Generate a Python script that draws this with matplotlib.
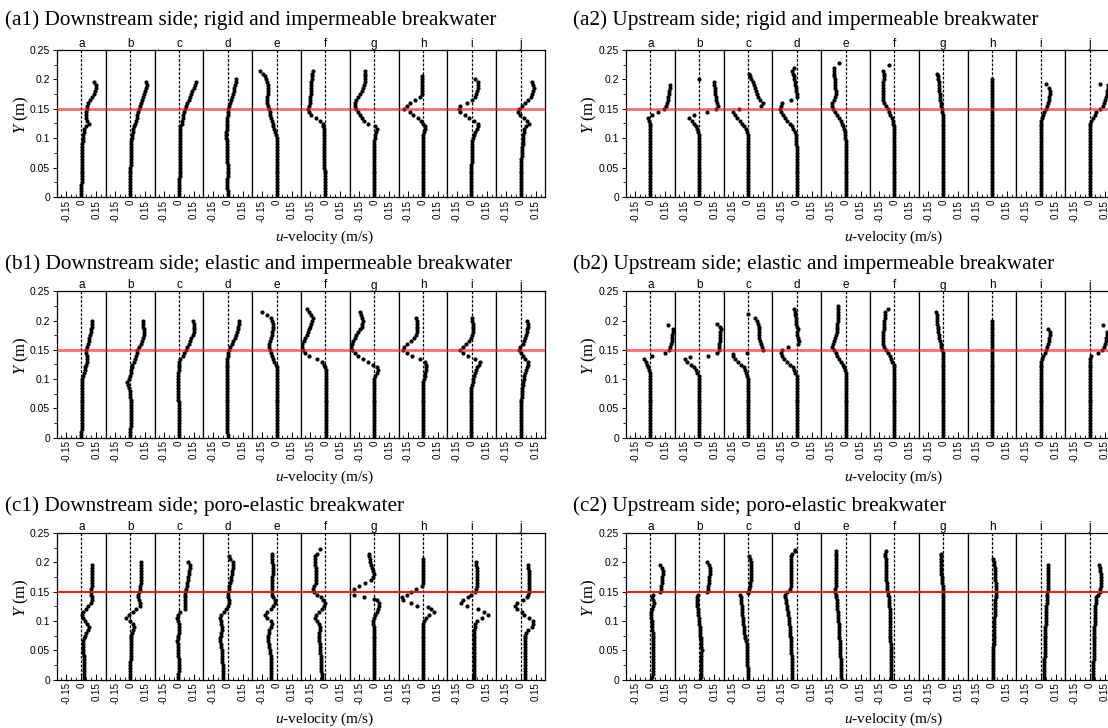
import numpy as np
import matplotlib.pyplot as plt
from matplotlib.ticker import FixedLocator, MultipleLocator

plt.rcParams['font.family'] = 'Liberation Sans'
plt.rcParams['mathtext.fontset'] = 'custom'
plt.rcParams['mathtext.rm'] = 'Liberation Serif'
plt.rcParams['mathtext.it'] = 'Liberation Serif:italic'

STATIONS = list('abcdefghij')
DY = 0.005  # vertical spacing of the measured points (m)

# u-velocity profiles in cm/s, listed from y = 0 upward in steps of DY
a1_u = {
    'a': [0, 0, 0, 0, 0, 0.5, 0.5, 0.5, 0.5, 0.5, 0.5, 0.5, 0.5, 0.5, 0.5, 1, 1, 1, 1, 1.5,
          1.5, 2, 2.5, 3, 5, 8, 6, 5, 4.5, 5, 6, 5.5, 7, 9, 11, 13, 14, 15, 15, 13],
    'b': [0, 0, 0, 0, 0, 0, 0, 0, 0, 0, 0, 0.5, 0.5, 0.5, 0.5, 0.5, 0.5, 0.5, 1, 1,
          1.5, 2, 2.5, 3, 4, 5, 6, 6.5, 7, 8, 9, 10, 11, 12, 13, 14, 15, 16, 17, 16],
    'c': [0, 0, 0.5, 0.5, 0.5, 0.5, 0.5, 1, 1, 1, 1, 1, 1, 1, 1, 1, 1, 1, 1, 1,
          1, 1, 1, 1.5, 1.5, 3, 3.5, 4, 4.5, 5, 6, 7, 8.5, 10, 11, 12, 13.5, 15, 16, 17],
    'd': [0, 0, 0, -0.5, -0.5, -0.5, -0.5, 0, 0, 0, 0, 0, -0.5, -0.5, -0.5, -0.5, -0.5, -1, -1, -1,
          -1.5, -1.5, -1.5, -1, -1, -0.5, -0.5, -0.5, 0, 0, 0.5, 1.5, 2.5, 3, 4, 5, 6, 6.5, 7, 8, 8.5],
    'e': [0.5, 0.5, 0.5, 0.5, 0.5, 0.5, 0.5, 0.5, 0.5, 0.5, 0, 0, 0, 0, 0, 0, 0, 0, 0, 0,
          0, -0.5, -1.5, -2.5, -3.5, -4, -4.5, -5.5, -6.5, -7, -8, -8.5, -10, -10, -9.5, -9, -8.5, -8.5, -9, -9.5,
          -10.5, -12, -14, -17],
    'f': [0, 0, 0, 0, -0.5, -0.5, -0.5, -0.5, -0.5, -0.5, -1, -1, -1, -1, -1, -1, -1, -1, -1, -1,
          -1, -1, -1, -1, -2, -2, -5, -9, -14, -16.5, -17, -16, -15.5, -15, -15, -14.5, -14.5, -14, -14, -14,
          -13.5, -13.5, -13, -12],
    'g': [0, 0, 0, 0, 0, 0, 0, 0, 0, 0, -0.5, -0.5, -0.5, -0.5, -0.5, -0.5, -0.5, -0.5, 0, 0,
          0.5, 1, 1.5, 2.5, 1, -6, -10, -12.5, -14.5, -16.5, -18, -19, -19, -18, -16.5, -14, -12.5, -11, -10, -9.5,
          -9, -9, -9, -9.5],
    'h': [-0.5, -0.5, -0.5, -0.5, -0.5, -0.5, -0.5, -0.5, -0.5, -0.5, -0.5, -0.5, -0.5, -0.5, -0.5, -0.5, -0.5, -0.5, -0.5, -0.5,
          -0.5, 0, 1, 2.5, 2, 0, -2, -5, -10, -13, -19, -16, -13, -8, -3, -1.5, -1.5, -1.5, -1.5, -1.5,
          -1.5, -1],
    'i': [-0.5, -0.5, -0.5, -0.5, -0.5, -0.5, -0.5, -0.5, -0.5, -0.5, -0.5, -0.5, 0, 0, 0, 0, 0, 0, 0.5, 0.5,
          1.5, 2.5, 3.5, 5, 6.5, 6, 2, -3, -7, -12, -13, -12, -5, 0, 3, 4.5, 5.5, 6, 6.5, 6, 3.5],
    'j': [0, 0, 0, 0, 0.5, 0.5, 0.5, 0.5, 0.5, 0.5, 0.5, 0.5, 0.5, 0.5, 1, 1, 1, 1.5, 2, 2,
          2, 2.5, 3, 3.5, 5, 8, 6.5, 3, -1, -3, -2, 1, 4.5, 7.5, 10, 11.5, 12.5, 13, 12.5, 11],
}
a1_extra = {}

a2_u = {
    'a': [0, 0, 0, 0, 0, 0, 0, 0, 0, 0, 0, 0, 0, 0, 0, 0, 0, 0, 0, 0,
          0, 0, 0, 0, 0, 0, -1, -2.5, 2, 8, 14, 16, 17, 17.5, 18, 19, 19, 19.5, 19.5],
    'b': [0, 0, 0, 0, 0, 0, 0, 0, 0, 0, 0, 0, 0, 0, 0, 0, 0, 0, -0.5, -0.5,
          -0.5, -0.5, -1.5, -2.5, -3.5, -5, -7, -10, -5, 8, 17, 19, 18, 17, 16.5, 16, 16, 15.5, 15, 15],
    'c': [0, 0, 0, 0, 0, 0, 0, 0, 0, 0, 0, 0, 0, 0, 0, 0, 0, 0, -0.5, -0.5,
          -0.5, -0.5, -1.5, -2.5, -4, -6, -8.5, -11, -13.5, -15.5, -9, 13.5, 15, 12, 10.5, 9.5, 8.5, 7.5, 6.5, 5,
          3.5, 2.5, 1.5],
    'd': [0, 0, 0, 0, 0, 0, 0, 0, 0, 0, 0, 0, 0, 0, 0, 0, 0, 0, -0.5, -0.5,
          -0.5, -0.5, -2, -3.5, -5, -7, -9.5, -12, -14, -15.5, -16.5, -16, -14.5, -6, 0, 0, -0.5, -1, -1.5, -2,
          -2.5, -3, -3.5, -4.5, -2.5],
    'e': [0, 0, 0, 0, 0, 0, 0, 0, 0, 0, 0, 0, 0, 0, 0, 0, 0, 0, 0, 0,
          -0.5, -0.5, -0.5, -1.5, -2.5, -4, -5, -6.5, -8.5, -10.5, -12.5, -14, -13.5, -12, -10.5, -10, -10, -10.5, -11, -11,
          -11, -11.5, -11.5, -11.5, -11.5],
    'f': [0, 0, 0, 0, 0, 0, 0, 0, 0, 0, 0, 0, 0, 0, 0, 0, 0, 0, 0, 0,
          0, 0, 0, 0, -0.5, -1, -1.5, -2.5, -4, -5, -6.5, -8.5, -10, -11, -11, -11.5, -11.5, -11, -11, -11,
          -10.5, -10.5, -10.5, -11],
    'g': [0, 0, 0, 0, 0, 0, 0, 0, 0, 0, 0, 0, 0, 0, 0, 0, 0, 0, 0, 0,
          0, 0, 0, 0, 0, 0, 0, 0, -0.5, -1, -1.5, -2, -2.5, -3, -3.5, -3.5, -4, -4, -4.5, -4.5,
          -5, -5.5, -6.5],
    'h': [0, 0, 0, 0, 0, 0, 0, 0, 0, 0, 0, 0, 0, 0, 0, 0, 0, 0, 0, 0,
          0, 0, 0, 0, 0, 0.5, 0.5, 0.5, 0.5, 0.5, 0.5, 0.5, 0.5, 0.5, 0.5, 0.5, 0.5, 0.5, 0.5, 0.5, 0.5],
    'i': [0, 0, 0, 0, 0, 0, 0, 0, 0, 0, 0, 0, 0, 0, 0, 0, 0, 0, 0, 0,
          0, 0, 0, 0, 0, 0, 0.5, 1, 2, 3.5, 5.5, 6.5, 7.5, 8, 8.5, 9, 9, 8.5],
    'j': [0, 0, 0, 0, 0, 0, 0, 0, 0, 0, 0, 0, 0, 0, 0, 0, 0, 0, 0, 0,
          0, 0, 0, 0, 0, 0.5, 1.5, 3, 5, 6.5, 10, 13, 14.5, 15.5, 16.5, 17, 17.5, 18, 18],
}
# isolated points (y in m, u in cm/s)
a2_extra = {'b': [(0.2, 0)], 'e': [(0.228, -6.5)], 'f': [(0.224, -5.5)],
            'i': [(0.193, 5.5)], 'j': [(0.193, 10)]}

b1_u = {
    'a': [0, 0, 0, 0.5, 0.5, 0.5, 0.5, 0.5, 0.5, 0.5, 0.5, 0.5, 0.5, 0.5, 0.5, 0.5, 0.5, 0.5, 0.5, 0.5,
          1, 2, 3, 3.5, 4, 5, 6, 6, 5.5, 5, 5, 5.5, 6.5, 7.5, 8, 8.5, 9.5, 10, 10.5, 10.5, 11],
    'b': [0, 0, 0, 0, 0.5, 0.5, 0.5, 0.5, 0.5, 0.5, 0.5, 0.5, 0.5, 0.5, 0, 0, -0.5, -1, -2, -3,
          -1.5, -0.5, 0.5, 1, 1.5, 2, 3.5, 4.5, 6, 6.5, 7, 9, 10.5, 12, 13, 13.5, 14, 13.5, 13, 12.5, 12.5],
    'c': [0, 0, 0, 0, 0, -0.5, -0.5, -0.5, -0.5, -0.5, -0.5, -0.5, -0.5, -1, -1, -1, -1, -1, -1.5, -1.5,
          -1.5, -1, -1, -0.5, -0.5, 0, 0.5, 1.5, 4, 5.5, 7, 8.5, 10, 11.5, 12.5, 14, 15, 15.5, 15.5, 15, 14.5],
    'd': [0, 0, -0.5, -0.5, -0.5, -0.5, -0.5, -0.5, -0.5, -0.5, -0.5, -0.5, -1, -1, -1, -1, -1, -1, -1, -1,
          -1, -1, -1, -1, -1, -0.5, -0.5, -0.5, 0, 0.5, 1.5, 2.5, 4, 5.5, 7, 8, 9, 10, 10.5, 11, 11.5],
    'e': [0.5, 0.5, 0.5, 0.5, 0.5, 0.5, 0.5, 0.5, 0.5, 0.5, 0.5, 0.5, 0.5, 0.5, 0.5, 0.5, 0.5, 0.5, 0.5, 0.5,
          0.5, 0.5, 0.5, 0.5, 0, -1, -3, -4, -5, -6, -7, -8, -8, -7, -6, -5, -4.5, -4, -4, -4,
          -4.5, -6, -10, -15],
    'f': [0.5, 0.5, 0.5, 0.5, 0.5, 0.5, 0.5, 0.5, 0.5, 0.5, 0.5, 0.5, 0.5, 0.5, 0.5, 0.5, 0.5, 0.5, 0.5, 0.5,
          0.5, 0.5, 0.5, 0.5, 0, -1, -3, -8, -16, -20, -22, -23.5, -23, -21.5, -20, -18.5, -17, -16, -15, -14,
          -13, -12, -14, -16, -18.5],
    'g': [0, 0, 0, 0, 0, 0, 0, 0, 0, 0, 0, 0, 0, 0, 0, 0, 0, 0, 0, 0,
          0, 1, 2.5, 4, 2.5, -1, -6, -11, -16, -19.5, -22, -23, -22.5, -21, -19.5, -18, -16, -14, -12.5, -12,
          -11.5, -12, -13, -14.5],
    'h': [0, 0, 0, 0, 0, 0, 0, 0, 0, 0, 0, 0, 0, 0, 0, 0, 0, 0, 0, 0,
          1, 2, 2.5, 3, 3.5, 3, 2, -3, -11, -16, -20, -19.5, -16, -12, -9, -7.5, -6.5, -6, -6, -6,
          -6.5, -7.5],
    'i': [-0.5, -0.5, -0.5, -0.5, -0.5, -0.5, -0.5, -0.5, -0.5, -0.5, -0.5, -0.5, -0.5, -0.5, -0.5, -0.5, -0.5, -0.5, 0.5, 1,
          1.5, 2.5, 3.5, 4, 5, 7, 8, 3, -4, -9, -11.5, -9, -6, -3, -1, 0, 1, 1, 1.5, 1,
          0.5, 0],
    'j': [0, 0, 0, 0, 0, 0, 0.5, 0.5, 0.5, 0.5, 0.5, 0.5, 0.5, 0.5, 1, 1, 1.5, 1.5, 2, 2.5,
          3, 3.5, 4.5, 5, 6, 7.5, 7, 4.5, 2, 0.5, -2, -0.5, 2, 3.5, 4.5, 5.5, 6, 6.5, 7, 7, 6],
}
b1_extra = {}

b2_u = {
    'a': [0, 0, 0, 0, 0, 0, 0, 0, 0, 0, 0, 0, 0, 0, 0, 0, 0, 0, 0, 0,
          0, 0, -0.5, -1.5, -2.5, -3, -4, -6, 1.5, 15, 18.5, 20, 21, 21.5, 22, 22, 22.5, 23],
    'b': [0, 0, 0, 0, 0, 0, 0, 0, 0, 0, 0, 0, 0, 0, 0, 0, 0, 0, -0.5, -0.5,
          -0.5, -0.5, -2, -3.5, -5, -8, -12, -14, 9, 18, 19.5, 20, 20, 20.5, 20.5, 21, 21, 21.5, 21, 17.5],
    'c': [0, 0, 0, 0, 0, 0, 0, 0, 0, 0, 0, 0, 0, 0, 0, 0, 0, 0, 0, 0,
          0, -1, -2, -3, -4.5, -7, -10.5, -13.5, -15.5, -1.5, 15, 14.5, 13, 12, 11.5, 11, 11, 11, 11, 10,
          9, 7],
    'd': [0, 0, 0, 0, 0, 0, 0, 0, 0, 0, 0, 0, 0, 0, 0, 0, 0, 0, 0, 0,
          0, 0, -1.5, -2.5, -4, -6.5, -10, -13, -15, -15.5, -15, -9, 1.5, 2, 1, 0, 0.5, 1, 0, -0.5,
          -1, -1, -1.5, -2, -2.5],
    'e': [0, 0, 0, 0, 0, 0, 0, 0, 0, 0, 0, 0, 0, 0, 0, 0, 0, 0, 0, 0,
          0, 0, 0, -0.5, -1.5, -3, -5, -7, -8.5, -9.5, -12, -14, -13, -11.5, -10.5, -9.5, -9, -8.5, -8.5, -8.5,
          -8, -8, -8, -8, -8, -8],
    'f': [0, 0, 0, 0, 0, 0, 0, 0, 0, 0, 0, 0, 0, 0, 0, 0, 0, 0, 0, 0,
          0, 0, 0, 0, 0, -0.5, -2, -3, -4.5, -6, -8.5, -10, -11.5, -11.5, -11.5, -11, -11, -10.5, -10.5, -10,
          -10, -9.5, -9.5, -9, -6.5],
    'g': [0, 0, 0, 0, 0, 0, 0, 0, 0, 0, 0, 0, 0, 0, 0, 0, 0, 0, 0, 0,
          0, 0, 0, 0, 0, 0, 0, 0, -0.5, -0.5, -1, -2, -2.5, -3.5, -4, -4.5, -5, -5.5, -5.5, -6,
          -6, -6.5, -6.5, -7.5],
    'h': [0, 0, 0, 0, 0, 0, 0, 0, 0, 0, 0, 0, 0, 0, 0, 0, 0, 0, 0, 0,
          0, 0, 0, 0, 0, 0, 0.5, 0.5, 0.5, 0.5, 0.5, 0.5, 0.5, 0.5, 0.5, 0.5, 0.5, 0.5, 0.5, 0.5, 0.5],
    'i': [0, 0, 0, 0, 0, 0, 0, 0, 0, 0, 0, 0, 0, 0, 0, 0, 0, 0, 0, 0,
          0, 0, 0, 0, 0, 0, 0, 1, 2.5, 4, 5.5, 6.5, 7.5, 8, 8.5, 9, 9, 7.5],
    'j': [0, 0, 0, 0, 0, 0, 0, 0, 0, 0, 0, 0, 0, 0, 0, 0, 0, 0, 0, 0,
          0, 0, 0, 0, 0, 0, 0, 0, 1.5, 8, 12.5, 14, 15, 16, 16.5, 17, 17.5],
}
b2_extra = {'a': [(0.193, 18)], 'b': [(0.138, -9)], 'c': [(0.211, 0), (0.143, -15)],
            'j': [(0.193, 13.5)]}

c1_u = {
    'a': [2.5, 2.5, 2.5, 2.5, 2.5, 2.5, 2.5, 2.5, 2.5, 2, 2, 2, 2, 2, 2.5, 3.5, 5, 7, 8, 6,
          3.5, 1.5, 0.5, 2, 4.5, 6.5, 10, 11, 10.5, 10, 10, 10, 10.5, 10.5, 10.5, 10.5, 10.5, 10.5, 10.5, 10.5],
    'b': [0, 0, 0, 0, 0, 0, 0, 0.5, 0.5, 0.5, 0.5, 0.5, 0.5, 0.5, 0.5, 1, 1.5, 2.5, 3.5, 2.5,
          0, -4, -1, 3, 5.5, 10, 9.5, 8.5, 8, 8, 9, 9.5, 10, 10.5, 10.5, 11, 11, 11, 11, 11, 10.5],
    'c': [-1, -1, -1, -0.5, -0.5, -0.5, -0.5, -0.5, -1, -1, -1, -1, -1.5, -2.5, -1.5, -1, -0.5, 0, 0.5, 0,
          -1.5, -2.5, -1, 1, 6, 6.5, 6.5, 6, 6, 6, 6.5, 7, 8, 8.5, 9, 9.5, 10, 10.5, 11, 11, 9],
    'd': [-5, -5, -5, -5, -5, -5, -5.5, -5.5, -5.5, -6, -6, -6.5, -7, -7.5, -7.5, -7, -6.5, -6, -6, -6.5,
          -7, -7.5, -7, -4, -2, 0, 1.5, 1, 0.5, 0.5, 0.5, 1, 1.5, 2.5, 3, 3.5, 4, 4.5, 5, 5.5,
          5.5, 2.5, 1],
    'e': [-5.5, -5.5, -5.5, -5.5, -5.5, -6, -6, -6, -6, -6.5, -7, -7.5, -8, -8.5, -8.5, -8.5, -8, -7.5, -6, -4.5,
          -6, -9.5, -12, -9.5, -6, -3.5, -1.5, -2, -3.5, -4.5, -5, -5, -5, -4.5, -4.5, -4.5, -4, -4, -4, -4,
          -4.5, -4.5, -4.5, -5],
    'f': [-3.5, -3.5, -3.5, -4, -4, -4, -4, -4.5, -4.5, -5, -5, -5.5, -5.5, -6, -6, -6, -6, -5.5, -5.5, -6,
          -8, -10, -9, -6, -3, -1, -0.5, -2, -4.5, -8, -11, -12, -11, -9.5, -9, -9, -9, -9, -9.5, -10,
          -10.5, -10.5, -10, -8.5],
    'g': [0, 0, 0, 0, 0, -0.5, -0.5, -0.5, -0.5, -0.5, -0.5, -0.5, -0.5, -0.5, -0.5, -0.5, -0.5, -0.5, -0.5, -1,
          -1, 0, 1, 3, 4, 5, 5, 2.5, -10, -20, -25, -20, -15, -9, -3, -1, -0.5, -1.5, -2.5, -3,
          -4, -4.5, -5, -5.5],
    'h': [0, 0, 0, 0, 0.5, 0.5, 0.5, 0.5, 0.5, 0.5, 0.5, 0.5, 0.5, 0.5, 0.5, 0.5, 0.5, 0.5, 0.5, 0.5,
          1, 3, 6, 11, 8, -6, -12, -20, -21, -16, -12, -7, -1.5, 0, 0.5, 0.5, 0.5, 0, 0, 0,
          -0.5, -0.5],
    'i': [2.5, 2.5, 2.5, 2.5, 2.5, 2.5, 2.5, 2.5, 2.5, 2.5, 2.5, 2.5, 2.5, 2.5, 2.5, 2.5, 2.5, 2.5, 3, 3.5,
          5, 10, 16, 12, 6.5, -5, -11, -9, -4, -0.5, 3, 4, 5, 5, 5, 5, 5, 5, 5, 4.5, 4.5],
    'j': [4, 4, 4, 4, 4, 4, 4, 4, 4, 4, 4, 4, 4, 4, 4, 4.5, 5, 7.5, 11, 12.5,
          12, 8.5, 3.5, 1, -4, -5.5, -4, 2.5, 6, 7.5, 8.5, 8.5, 8.5, 8.5, 8.5, 8.5, 8, 8, 7.5, 7],
}
c1_extra = {'f': [(0.222, -5.5)], 'g': [(0.138, -0.5)], 'h': [(0.123, 5)]}

c2_u = {
    'a': [0.5, 2, 2.5, 3, 3, 3, 3, 3, 3, 3, 3, 3, 3, 2.5, 2.5, 2.5, 2.5, 2, 2, 1.5,
          1.5, 1, 1, 1, 1.5, 2.5, 3.5, 2.5, 1.5, 3, 10, 10.5, 11, 11.5, 12, 12, 12.5, 12.5, 11.5, 9.5],
    'b': [1, 1.5, 1.5, 1.5, 2, 2, 2, 2, 2, 2, 2.5, 2, 2, 1.5, 1.5, 1, 1, 0.5, 0.5, 0,
          0, -0.5, -1, -1, -1.5, -2, -2.5, -2.5, -2.5, -1.5, 8, 8.5, 9, 9.5, 10, 10, 10.5, 10.5, 10.5, 10, 8],
    'c': [-0.5, -0.5, -0.5, -0.5, -0.5, -1, -1, -1, -1, -1, -1, -1, -1.5, -2, -3, -3.5, -4, -4.5, -4.5, -5,
          -5.5, -5.5, -6, -6, -6.5, -6.5, -7, -7, -7.5, -8, 0, 1, 2, 2.5, 3, 3.5, 3.5, 3.5, 3.5, 3.5,
          3, 2, 1],
    'd': [-4.5, -4.5, -5, -5, -5, -5, -5, -5, -5, -5.5, -5.5, -5.5, -6, -6, -6, -6.5, -6.5, -7, -7, -7.5,
          -7.5, -8, -8.5, -9, -9.5, -10, -10.5, -11, -11.5, -11.5, -9.5, -7, -6, -6, -6, -6, -6, -6, -6, -6,
          -6, -6, -6, -4.5, -1.5],
    'e': [-4, -4.5, -4.5, -5, -5, -5, -5, -5, -5.5, -5.5, -5.5, -6, -6, -6, -6.5, -6.5, -6.5, -7, -7, -7,
          -7.5, -7.5, -8, -8, -8.5, -8.5, -9, -9, -9.5, -10, -10.5, -10.5, -10, -9.5, -9.5, -9.5, -9.5, -9.5, -10, -10,
          -10, -10, -10, -10, -9.5],
    'f': [-3, -3, -3, -3.5, -3.5, -3.5, -3.5, -3.5, -3.5, -3.5, -3.5, -3.5, -3.5, -4, -4, -4, -4, -4, -4, -4,
          -4, -4.5, -4.5, -4.5, -4.5, -5, -5, -5.5, -5.5, -6, -6.5, -7, -7.5, -7.5, -8, -8, -8, -8.5, -8.5, -8.5,
          -8.5, -8.5, -9, -9, -8.5],
    'g': [0, 0, 0, 0, 0, 0, 0, 0, 0, 0, 0, 0, 0, 0, 0, 0, 0, 0, 0, 0,
          0, 0, 0, 0, 0, 0, 0, 0, 0, 0, 0, -0.5, -0.5, -1, -1.5, -1.5, -2, -2, -2.5, -2.5,
          -2.5, -2.5, -2.5, -2],
    'h': [1, 1, 1, 1, 1, 1.5, 1.5, 1.5, 1.5, 1.5, 1.5, 1.5, 2, 2, 2, 2, 2, 2, 2.5, 2.5,
          2.5, 2.5, 3, 3, 3, 3.5, 3.5, 3.5, 4, 4, 4.5, 4.5, 4, 4, 3.5, 3.5, 3.5, 3, 3, 2.5,
          2.5, 1],
    'i': [3, 3, 3.5, 3.5, 3.5, 3.5, 3.5, 3.5, 4, 4, 4, 4, 4, 4, 4.5, 4.5, 4.5, 4.5, 4.5, 5,
          5, 5, 5, 5.5, 5.5, 5.5, 6, 6, 6, 6.5, 6.5, 7, 7, 7, 7.5, 7.5, 7.5, 7.5, 7.5, 7],
    'j': [3, 3, 3.5, 3.5, 3.5, 3.5, 3.5, 4, 4, 4, 4, 4, 4, 4, 4.5, 4.5, 4.5, 4.5, 4.5, 5,
          5, 5, 5, 5.5, 5.5, 5.5, 6, 6, 6.5, 8, 10, 10.5, 11, 11.5, 11.5, 11.5, 11, 10.5, 10, 9.5],
}
c2_extra = {'c': [(0.148, 0)], 'd': [(0.221, -1.5)]}

panels = [
    ('(a1) Downstream side; rigid and impermeable breakwater', a1_u, a1_extra, 0, 0),
    ('(a2) Upstream side; rigid and impermeable breakwater', a2_u, a2_extra, 0, 1),
    ('(b1) Downstream side; elastic and impermeable breakwater', b1_u, b1_extra, 1, 0),
    ('(b2) Upstream side; elastic and impermeable breakwater', b2_u, b2_extra, 1, 1),
    ('(c1) Downstream side; poro-elastic breakwater', c1_u, c1_extra, 2, 0),
    ('(c2) Upstream side; poro-elastic breakwater', c2_u, c2_extra, 2, 1),
]

W, H = 1108, 728
fig = plt.figure(figsize=(W / 100, H / 100), dpi=100)

PANEL_W = 488
ROW_TOP = [50, 291.5, 533]
ROW_BOT = [197, 437.5, 679.5]
COL_LEFT = [57, 626]
TITLE_X = [5, 573]
TITLE_Y = [20, 264, 506]
YLABEL_X = [21, 589]
SERIF = 'Liberation Serif'

for title, profiles, extra, row, col in panels:
    left, top, bot = COL_LEFT[col], ROW_TOP[row], ROW_BOT[row]
    sub_w = PANEL_W / len(STATIONS)
    if row < 2:
        red = dict(color='#ff2020', alpha=0.65, lw=2.0)
    else:
        red = dict(color='red', lw=1.3)
    for k, st in enumerate(STATIONS):
        ax = fig.add_axes([(left + k * sub_w) / W, 1 - bot / H, sub_w / W, (bot - top) / H])
        u = np.array(profiles[st], dtype=float) / 100
        y = np.arange(len(u)) * DY
        ax.axvline(0, color='black', lw=0.9, ls=(0, (2.2, 1.3)), zorder=1)
        ax.plot(u, y, 'o', color='black', ms=3.0, mew=0, zorder=2)
        if st in extra:
            ey, eu = zip(*extra[st])
            ax.plot(np.array(eu) / 100, ey, 'o', color='black', ms=3.0, mew=0, zorder=2)
        ax.axhline(0.15, zorder=3, **red)
        ax.set_xlim(-0.245, 0.245)
        ax.set_ylim(0, 0.25)
        ax.xaxis.set_major_locator(FixedLocator([-0.15, 0, 0.15]))
        ax.xaxis.set_minor_locator(FixedLocator([-0.2, -0.1, -0.05, 0.05, 0.1, 0.2]))
        ax.set_xticklabels(['-0.15', '0', '0.15'], rotation=90, fontsize=7)
        ax.tick_params(axis='x', which='major', direction='in', length=4, width=0.7, pad=2)
        ax.tick_params(axis='x', which='minor', direction='in', length=2.5, width=0.6)
        if k == 0:
            ax.yaxis.set_minor_locator(MultipleLocator(0.025))
            ax.set_yticks([0, 0.05, 0.1, 0.15, 0.2, 0.25])
            ax.set_yticklabels(['0', '0.05', '0.1', '0.15', '0.2', '0.25'], fontsize=7.5)
            ax.tick_params(axis='y', which='major', direction='out', length=3, width=0.7, pad=2)
            ax.tick_params(axis='y', which='minor', direction='out', length=2, width=0.6)
        else:
            ax.tick_params(axis='y', which='both', left=False, labelleft=False)
        for s in ax.spines.values():
            s.set_linewidth(0.9)
        ax.set_title(st, fontsize=8.5, pad=2)

    fig.text(TITLE_X[col] / W, 1 - TITLE_Y[row] / H, title, family=SERIF,
             fontsize=15.3, va='center', ha='left')
    fig.text(YLABEL_X[col] / W, 1 - (top + bot - 18) / 2 / H, '$Y$ (m)', family=SERIF,
             fontsize=12, rotation=90, va='center', ha='center')
    fig.text((left + PANEL_W / 2 + 24) / W, 1 - (bot + 40) / H, '$u$-velocity (m/s)',
             family=SERIF, fontsize=11, va='center', ha='center')

fig.savefig('out.png', dpi=100)
